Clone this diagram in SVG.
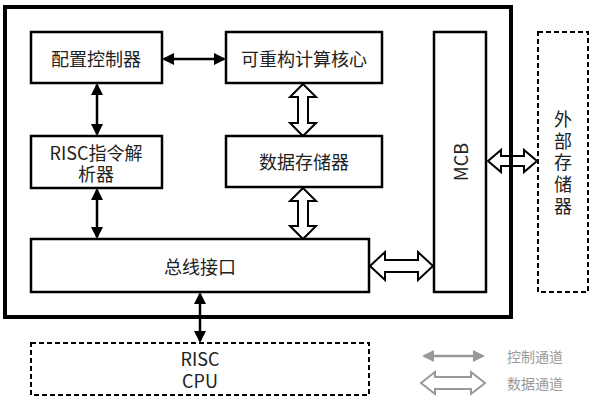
<svg xmlns="http://www.w3.org/2000/svg" width="594" height="400" viewBox="0 0 594 400">
<style>
text{font-family:"Noto Sans CJK SC","Open Sans",sans-serif;font-size:18px;fill:#222;text-anchor:middle;dominant-baseline:central}
.box{fill:#fff;stroke:#000;stroke-width:2.5}
.dash{fill:none;stroke:#000;stroke-width:2;stroke-dasharray:5 3}
.ctl{stroke:#000;stroke-width:2.5;fill:none;marker-start:url(#ah);marker-end:url(#ah)}
.dat{fill:#fff;stroke:#000;stroke-width:2;stroke-linejoin:miter}
.leg{font-size:14px;fill:#999;text-anchor:start}
</style>
<defs>
<marker id="ah" markerUnits="userSpaceOnUse" markerWidth="13" markerHeight="12" refX="10" refY="6" orient="auto-start-reverse" viewBox="0 0 13 12"><path d="M0,0 L12,6 L0,12 z" fill="#000"/></marker>
<marker id="ahg" markerUnits="userSpaceOnUse" markerWidth="13" markerHeight="12" refX="10" refY="6" orient="auto-start-reverse" viewBox="0 0 13 12"><path d="M0,0 L12,6 L0,12 z" fill="#999"/></marker>
</defs>
<g id="connectors">
<line class="ctl" x1="164" y1="59" x2="224" y2="59"/>
<line class="ctl" x1="97" y1="85" x2="97" y2="134"/>
<line class="ctl" x1="97" y1="190" x2="97" y2="237"/>
<line class="ctl" x1="200" y1="294" x2="200" y2="341"/>
<polygon class="dat" points="303,84 316,97 308,97 308,123 316,123 303,136 290,123 298,123 298,97 290,97"/>
<polygon class="dat" points="303,188 316,201 308,201 308,226 316,226 303,239 290,226 298,226 298,201 290,201"/>
<polygon class="dat" points="370,266 385,252 385,260 418,260 418,252 433,266 418,280 418,272 385,272 385,280"/>
<polygon class="dat" points="488,161 501,150 501,156 524,156 524,150 537,161 524,172 524,166 501,166 501,172"/>
</g>
<g id="frame"><rect x="5" y="7" width="506" height="310" fill="none" stroke="#000" stroke-width="4"/></g>
<g id="config"><rect class="box" x="31" y="32" width="131" height="51"/><text x="96" y="58">配置控制器</text></g>
<g id="core"><rect class="box" x="226" y="32" width="156" height="51"/><text x="304" y="58">可重构计算核心</text></g>
<g id="risc-dec"><rect class="box" x="31" y="136" width="131" height="52"/><text x="96" y="152">RISC指令解<tspan x="96" y="173">析器</tspan></text></g>
<g id="datamem"><rect class="box" x="226" y="136" width="156" height="51"/><text x="304" y="161">数据存储器</text></g>
<g id="bus"><rect class="box" x="31" y="239" width="338" height="53"/><text x="200" y="266">总线接口</text></g>
<g id="mcb"><rect class="box" x="434" y="32" width="52" height="260"/><text x="460" y="162" transform="rotate(-90 460 162)">MCB</text></g>
<g id="extmem"><rect class="dash" x="538" y="32" width="50" height="260"/>
<text x="563" y="118">外<tspan x="563" y="140">部</tspan><tspan x="563" y="161">存</tspan><tspan x="563" y="183">储</tspan><tspan x="563" y="205">器</tspan></text></g>
<g id="cpu"><rect class="dash" x="31" y="343" width="338" height="52"/><text x="200" y="358">RISC<tspan x="200" y="380">CPU</tspan></text></g>
<g id="legend">
<line x1="424" y1="356" x2="483" y2="356" stroke="#999" stroke-width="2.5" marker-start="url(#ahg)" marker-end="url(#ahg)"/>
<polygon points="421,383 435,372 435,377 471,377 471,372 485,383 471,394 471,389 435,389 435,394" fill="#fff" stroke="#999" stroke-width="2"/>
<text class="leg" x="507" y="356">控制通道</text>
<text class="leg" x="507" y="383">数据通道</text>
</g>
</svg>
